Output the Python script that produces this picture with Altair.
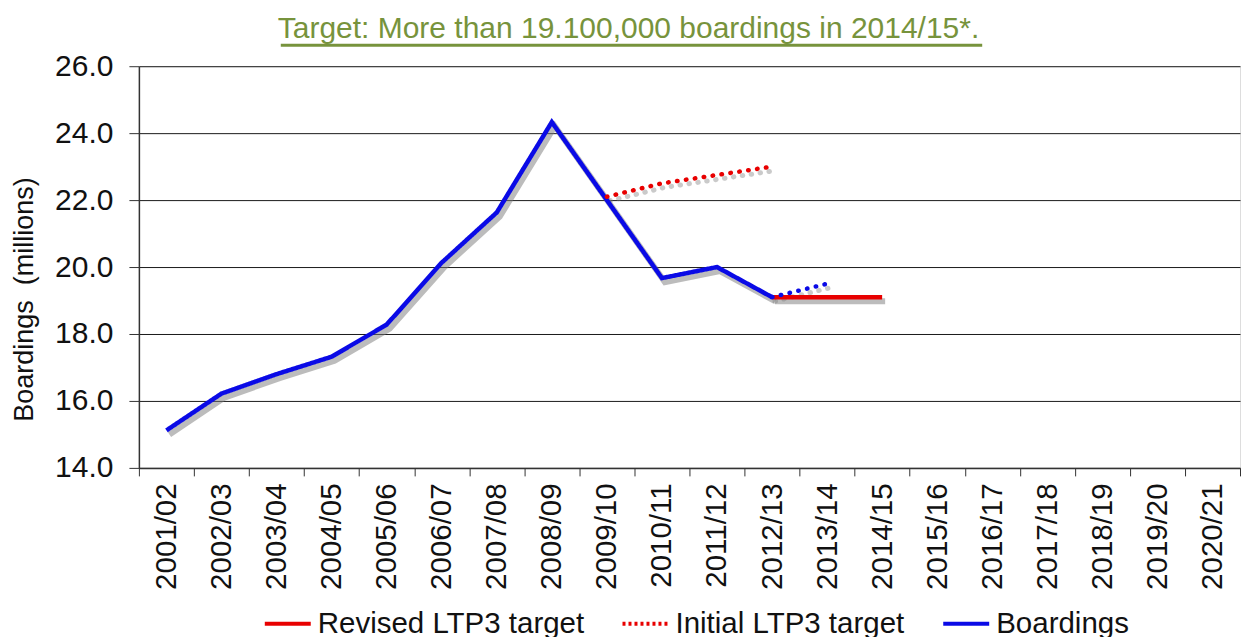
import altair as alt
import pandas as pd

years = ["2001/02", "2002/03", "2003/04", "2004/05", "2005/06", "2006/07", "2007/08",
         "2008/09", "2009/10", "2010/11", "2011/12", "2012/13", "2013/14", "2014/15",
         "2015/16", "2016/17", "2017/18", "2018/19", "2019/20", "2020/21"]

boardings_years = years[:12]
boardings = [15.12, 16.22, 16.8, 17.32, 18.28, 20.13, 21.63, 24.33, 22.0, 19.67, 20.0, 19.1]

forecast_years = ["2012/13", "2013/14"]
forecast = [19.1, 19.5]

initial_years = ["2009/10", "2010/11", "2011/12", "2012/13"]
initial_target = [22.1, 22.5, 22.75, 23.0]

revised_years = ["2012/13", "2013/14", "2014/15"]
revised_target = [19.1, 19.1, 19.1]

series_names = ["Revised LTP3 target", "Initial LTP3 target", "Boardings"]
series_colors = ["#E80000", "#E80000", "#0A0AE6"]
series_dashes = [[1, 0], [3, 3], [1, 0]]

FONT = "Liberation Sans"
BG = "#D7E4BD"
GREEN = "#77933C"

solid = pd.concat([
    pd.DataFrame({"year": boardings_years, "value": boardings, "series": "Boardings"}),
    pd.DataFrame({"year": revised_years, "value": revised_target, "series": "Revised LTP3 target"}),
])
initial_df = pd.DataFrame({"year": initial_years, "value": initial_target, "series": "Initial LTP3 target"})
forecast_df = pd.DataFrame({"year": forecast_years, "value": forecast, "series": "Forecast"})

x_enc = alt.X("year:N", sort=years,
              scale=alt.Scale(type="band", domain=years, paddingInner=0, paddingOuter=0),
              axis=alt.Axis(title=None, labelAngle=270, labelAlign="right", labelBaseline="middle",
                            labelFontSize=29.5, labelFont=FONT, labelColor="#111111",
                            labelPadding=7, tickBand="extent", tickSize=8, tickColor="#333333",
                            domainColor="#333333", domainWidth=1.5, grid=False))
y_enc = alt.Y("value:Q",
              scale=alt.Scale(domain=[14, 26], nice=False, zero=False),
              axis=alt.Axis(title="Boardings\u00a0\u00a0(millions)", titleFontSize=27, titleFont=FONT,
                            titleFontWeight="normal", titleColor="#111111", titlePadding=16,
                            titleY=233,
                            values=[14, 16, 18, 20, 22, 24, 26], format=".1f",
                            labelFontSize=30, labelFont=FONT, labelColor="#111111", labelPadding=16,
                            tickSize=10, tickColor="#333333", domainColor="#333333", domainWidth=1.5,
                            grid=True, gridColor="#1a1a1a", gridWidth=1, gridOpacity=1))

shadow_solid = alt.Chart(solid).mark_line(
    color="#7a7a7a", opacity=0.5, strokeWidth=6, xOffset=3, yOffset=4
).encode(x=x_enc, y=y_enc, detail="series:N")

shadow_initial = alt.Chart(initial_df).mark_line(
    color="#7a7a7a", opacity=0.4, strokeWidth=5, strokeDash=[0.5, 8.5], strokeCap="round",
    xOffset=3, yOffset=4
).encode(x=x_enc, y=y_enc)

shadow_forecast = alt.Chart(forecast_df).mark_line(
    color="#7a7a7a", opacity=0.4, strokeWidth=5, strokeDash=[0.5, 8.5], strokeCap="round",
    xOffset=3, yOffset=4
).encode(x=x_enc, y=y_enc)

lines = alt.Chart(solid).mark_line(strokeWidth=4.5).encode(
    x=x_enc, y=y_enc,
    color=alt.Color("series:N",
                    scale=alt.Scale(domain=series_names, range=series_colors),
                    sort=series_names,
                    legend=alt.Legend(title=None, orient="none", legendX=124, legendY=543,
                                      direction="horizontal",
                                      symbolType="stroke", symbolSize=2116, symbolStrokeWidth=4,
                                      labelFontSize=29.5, labelFont=FONT, labelColor="#111111",
                                      labelLimit=500, labelOffset=5, columnPadding=36,
                                      clipHeight=30)),
    strokeDash=alt.StrokeDash("series:N",
                              scale=alt.Scale(domain=series_names, range=series_dashes),
                              sort=series_names, legend=None),
)

initial_line = alt.Chart(initial_df).mark_line(
    color="#E80000", strokeWidth=4.5, strokeDash=[0.5, 8.5], strokeCap="round"
).encode(x=x_enc, y=y_enc)

forecast_line = alt.Chart(forecast_df).mark_line(
    color="#0A0AE6", strokeWidth=4.5, strokeDash=[0.5, 8.5], strokeCap="round"
).encode(x=x_enc, y=y_enc)

underline = alt.Chart(pd.DataFrame({"a": [0]})).mark_rule(color=GREEN, strokeWidth=3).encode(
    x=alt.value(142), x2=alt.value(844), y=alt.value(-21)
)

chart = alt.layer(
    shadow_solid, shadow_initial, shadow_forecast, lines, initial_line, forecast_line, underline
).properties(
    width=1102, height=402,
    padding={"left": 2, "top": 5, "right": 0, "bottom": 0},
    title=alt.TitleParams("Target: More than 19.100,000 boardings in 2014/15*.",
                          fontSize=30, font=FONT, fontWeight="normal", color=GREEN,
                          anchor="middle", dx=-61, offset=0),
).configure_view(fill=BG, strokeWidth=0).configure(background="white")

chart.save("out.html", embed_options={"renderer": "svg", "actions": False})
